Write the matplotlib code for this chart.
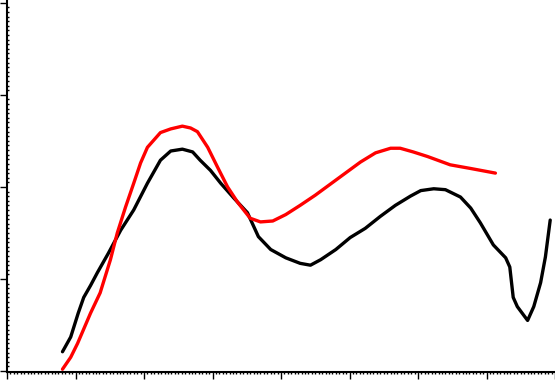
import numpy as np
import matplotlib
matplotlib.use("Agg")
import matplotlib.pyplot as plt
from matplotlib.ticker import MultipleLocator, NullFormatter

# black curve
black_x = [0.81, 0.93, 1.04, 1.12, 1.22, 1.32, 1.48, 1.66, 1.85, 2.05, 2.24, 2.39,
           2.56, 2.71, 2.82, 2.97, 3.12, 3.31, 3.51, 3.67, 3.85, 4.07, 4.28, 4.43, 4.58,
           4.80, 5.01, 5.23, 5.45, 5.67, 5.89, 6.04, 6.23, 6.40, 6.62, 6.77, 6.91,
           7.10, 7.28, 7.34, 7.39, 7.45, 7.60, 7.69, 7.79, 7.86, 7.93]
black_y = [0.21, 0.37, 0.63, 0.80, 0.93, 1.07, 1.28, 1.53, 1.75, 2.04, 2.29, 2.39,
           2.41, 2.38, 2.29, 2.18, 2.04, 1.88, 1.72, 1.46, 1.32, 1.23, 1.17, 1.15, 1.21,
           1.32, 1.45, 1.55, 1.68, 1.80, 1.90, 1.96, 1.98, 1.97, 1.89, 1.77, 1.61,
           1.37, 1.23, 1.13, 0.80, 0.70, 0.55, 0.70, 0.96, 1.24, 1.64]

# red curve
red_x = [0.81, 0.93, 1.03, 1.22, 1.36, 1.51, 1.61, 1.73, 1.85, 1.95, 2.05, 2.24,
         2.39, 2.56, 2.68, 2.78, 2.93, 3.07, 3.22, 3.37, 3.55, 3.70, 3.88, 4.07,
         4.28, 4.50, 4.72, 4.94, 5.16, 5.38, 5.60, 5.74, 5.93, 6.14, 6.47, 6.77, 7.13]
red_y = [0.02, 0.15, 0.30, 0.63, 0.85, 1.21, 1.50, 1.78, 2.04, 2.26, 2.43, 2.59,
         2.63, 2.66, 2.64, 2.60, 2.43, 2.22, 2.00, 1.83, 1.66, 1.62, 1.63, 1.70,
         1.80, 1.91, 2.03, 2.15, 2.27, 2.37, 2.42, 2.42, 2.38, 2.33, 2.24, 2.20, 2.15]

fig = plt.figure(figsize=(5.55, 3.8), dpi=100)
ax = fig.add_axes([7 / 555, 8 / 380, 548 / 555, 372 / 380])

ax.plot(black_x, black_y, color="black", lw=2.4, solid_joinstyle="round", solid_capstyle="round")
ax.plot(red_x, red_y, color="#ff0000", lw=2.4, solid_joinstyle="round", solid_capstyle="round")

ax.set_xlim(0.0, 8.0)
ax.set_ylim(-0.01, 4.03)

for s in ["top", "right"]:
    ax.spines[s].set_visible(False)
for s in ["left", "bottom"]:
    ax.spines[s].set_linewidth(1.5)

ax.xaxis.set_major_locator(MultipleLocator(1))
ax.xaxis.set_minor_locator(MultipleLocator(0.05))
ax.yaxis.set_major_locator(MultipleLocator(1))
ax.yaxis.set_minor_locator(MultipleLocator(0.05))
ax.xaxis.set_major_formatter(NullFormatter())
ax.yaxis.set_major_formatter(NullFormatter())

ax.tick_params(axis="both", which="major", direction="out", length=5, width=1)
ax.tick_params(axis="x", which="minor", direction="out", length=1.5, width=1)
ax.tick_params(axis="y", which="minor", direction="in", length=1.5, width=1)

fig.savefig("out.png", dpi=100)
